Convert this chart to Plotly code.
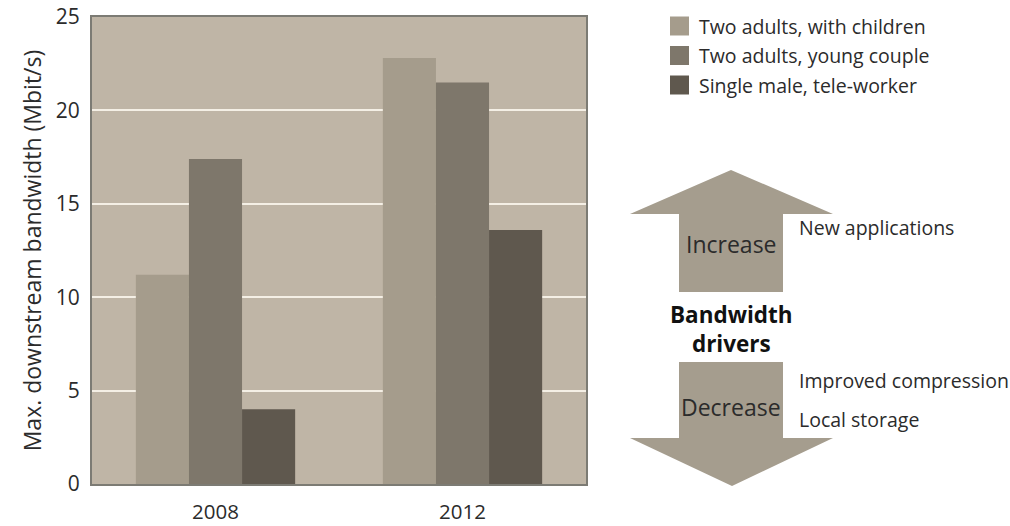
import plotly.graph_objects as go

# Data
years = ["2008", "2012"]
households = ["Two adults, with children", "Two adults, young couple", "Single male, tele-worker"]
with_children = [11.2, 22.8]
young_couple = [17.4, 21.5]
tele_worker = [4.0, 13.6]
series_values = [with_children, young_couple, tele_worker]
y_ticks = [0, 5, 10, 15, 20, 25]

bar_colors = ["#a59c8c", "#7e776b", "#5f584e"]
arrow_color = "#a59d8e"
text_color = "#2b2b2b"
FONT = "Open Sans"

W, H = 1010, 526
L, R, T, B = 92, 424, 17, 42
PW, PH = W - L - R, H - T - B


def px(x):
    return (x - L) / PW


def py(y):
    return (H - B - y) / PH


fig = go.Figure()
for name, vals, col in zip(households, series_values, bar_colors):
    fig.add_trace(go.Bar(x=years, y=vals, name=name, marker=dict(color=col, line=dict(width=0)),
                         showlegend=False))

shapes = []
annotations = []

# Hand-drawn legend with larger swatches
for i, (name, col) in enumerate(zip(households, bar_colors)):
    cy = 26 + i * 29.5
    shapes.append(dict(type="rect", xref="paper", yref="paper",
                       x0=px(670), x1=px(689), y0=py(cy - 9.5), y1=py(cy + 9.5),
                       fillcolor=col, line=dict(width=0)))
    annotations.append(dict(text=name, xref="paper", yref="paper", x=px(697), y=py(cy),
                            xanchor="left", yanchor="middle", showarrow=False,
                            font=dict(family=FONT, size=19.5, color=text_color)))


def poly(points):
    d = "M " + " L ".join(f"{px(x):.5f},{py(y):.5f}" for x, y in points) + " Z"
    return dict(type="path", xref="paper", yref="paper", path=d,
                fillcolor=arrow_color, line=dict(width=0))


# Increase / decrease arrows
shapes.append(poly([(731, 170), (833, 214), (783, 214), (783, 292), (679, 292), (679, 214), (630, 214)]))
shapes.append(poly([(679, 362), (783, 362), (783, 438), (833, 438), (732, 486), (630, 438), (679, 438)]))


def label(text, x, y, anchor="center", size=19.5, bold=False):
    annotations.append(dict(text=f"<b>{text}</b>" if bold else text, xref="paper", yref="paper",
                            x=px(x), y=py(y), xanchor=anchor, yanchor="middle", showarrow=False,
                            font=dict(family=FONT, size=size, color=text_color if not bold else "#111111")))


label("Increase", 731, 244, size=23)
label("Decrease", 731, 407, size=23)
label("Bandwidth<br>drivers", 731, 329, size=22.5, bold=True)
label("New applications", 797, 228, anchor="left")
label("Improved compression", 797, 380, anchor="left")
label("Local storage", 797, 419, anchor="left")

fig.update_layout(
    width=W, height=H,
    margin=dict(l=L, r=R, t=T, b=B),
    paper_bgcolor="white",
    plot_bgcolor="#bfb5a6",
    barmode="group",
    bargap=0.355,
    bargroupgap=0,
    shapes=shapes,
    annotations=annotations,
    font=dict(family=FONT, color=text_color),
)
fig.update_xaxes(
    automargin=False,
    showline=True, linecolor="#7c7b74", linewidth=2, mirror=True,
    showgrid=False, ticks="", tickfont=dict(size=20.5, color=text_color),
    ticklabelstandoff=8,
)
fig.update_yaxes(
    automargin=False,
    range=[0, 25], tickvals=y_ticks, showline=True, linecolor="#7c7b74", linewidth=2, mirror=True,
    showgrid=True, gridcolor="#f4efe5", gridwidth=2, zeroline=False,
    ticks="", tickfont=dict(size=21, color=text_color), ticklabelstandoff=6,
    title=dict(text="Max. downstream bandwidth (Mbit/s)", font=dict(size=23, color=text_color), standoff=8),
)

fig.write_html("out.html")
